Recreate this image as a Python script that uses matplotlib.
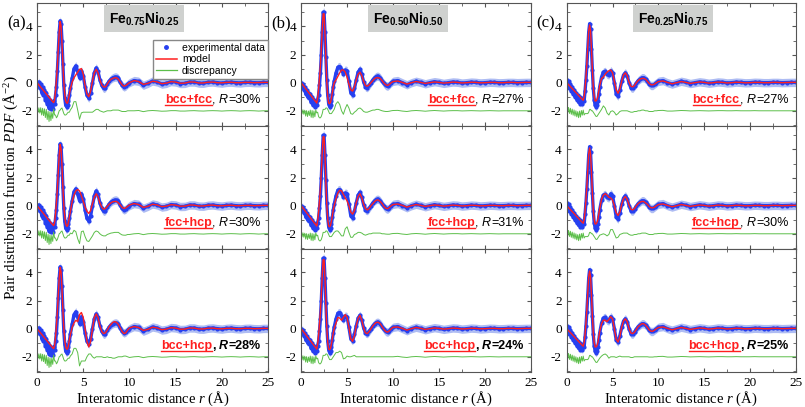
import numpy as np
import matplotlib
matplotlib.use('Agg')
import matplotlib.pyplot as plt
from matplotlib.lines import Line2D
from matplotlib.ticker import MultipleLocator

plt.rcParams['font.family'] = 'Liberation Serif'
plt.rcParams['mathtext.fontset'] = 'custom'
plt.rcParams['mathtext.rm'] = 'Liberation Serif'
plt.rcParams['mathtext.it'] = 'Liberation Serif:italic'
plt.rcParams['mathtext.bf'] = 'Liberation Sans:bold'
plt.rcParams['axes.unicode_minus'] = False

# sampling positions r (A): 0-3.6 by 0.1, 3.8-10 by 0.2, 10.5-25 by 0.5
r = np.concatenate([np.round(np.arange(0, 3.65, 0.1), 2),
                    np.round(np.arange(3.8, 10.05, 0.2), 2),
                    np.arange(10.5, 25.1, 0.5)])

# ---- (a) Fe0.75Ni0.25 ----
exp_a = [0.0, -0.2, 0.05, -0.4, -0.1, -0.7, -0.3, -0.9, -0.5, -1.2, -0.7, -1.5, -1.0, -1.8, -1.2, -1.9, -1.4, -1.9, -1.3, -1.5, -0.9,
         -0.3, 0.8, 2.2, 3.6, 4.4, 4.2, 3.0, 1.3, -0.2, -1.1, -1.6, -1.7, -1.6, -1.3, -0.9, -0.4,
         0.3, 1.0, 1.2, 0.8, 0.35, 0.85, 0.5, -0.3, -0.9, -1.1, -0.7, 0.0, 0.7, 1.05, 0.8, 0.2, -0.2, -0.4, -0.35, -0.1,
         0.1, 0.25, 0.35, 0.4, 0.4, 0.3, 0.05, -0.2, -0.3, -0.25, -0.1, 0.0,
         0.15, 0.1, -0.18, -0.05, 0.12, 0.05, -0.1, -0.05, 0.08, 0.05, -0.06, -0.05, 0.05, 0.05, -0.03,
         -0.04, 0.03, 0.05, 0.0, -0.03, 0.02, 0.04, 0.0, -0.02, 0.02, 0.03, 0.0, -0.01, 0.02, 0.02]
mod_a_low = [0.0, -0.08, -0.16, -0.24, -0.32, -0.4, -0.48, -0.56, -0.64, -0.72, -0.8, -0.88, -0.96, -1.04, -1.12, -1.2, -1.28, -1.36, -1.42, -1.2, -0.6,
             0.2, 1.2, 2.4, 3.6, 4.35, 4.05, 2.8, 1.3, 0.0, -0.8, -1.3, -1.45, -1.45, -1.2, -0.8, -0.45]
mod_a1_mid = [0.05, 0.35, 0.55, 0.75, 0.95, 1.0, 0.6, -0.2, -0.8, -1.0, -0.6, 0.1, 0.7, 0.95, 0.7, 0.2, -0.15, -0.3, -0.3, -0.1,
              0.1, 0.25, 0.3, 0.35, 0.35, 0.25, 0.05, -0.15, -0.25, -0.2, -0.1, 0.0]
mod_a2_mid = [0.3, 0.75, 1.05, 1.15, 1.05, 0.7, 0.3, -0.1, -0.4, -0.55, -0.35, 0.15, 0.6, 0.85, 0.65, 0.2, -0.1, -0.25, -0.2, -0.05,
              0.1, 0.2, 0.28, 0.3, 0.3, 0.2, 0.05, -0.12, -0.2, -0.15, -0.05, 0.05]
mod_a3_mid = [0.1, 0.4, 0.6, 0.5, 1.0, 1.15, 0.8, 0.0, -0.9, -1.3, -0.9, 0.0, 0.8, 1.05, 0.8, 0.2, -0.2, -0.35, -0.3, -0.1,
              0.15, 0.3, 0.45, 0.5, 0.45, 0.3, 0.05, -0.2, -0.35, -0.3, -0.1, 0.05]
mod_a_tail = [0.15, 0.08, -0.12, -0.05, 0.1, 0.05, -0.07, -0.03, 0.07, 0.04, -0.04, -0.03, 0.05, 0.04, -0.02,
              -0.02, 0.03, 0.04, 0.0, -0.01, 0.02, 0.03, 0.0, 0.0, 0.02, 0.02, 0.0, 0.01, 0.02, 0.02]

# ---- (b) Fe0.50Ni0.50 ----
exp_b = [0.0, -0.3, -0.1, -0.5, -0.3, -0.8, -0.5, -1.0, -0.7, -1.1, -0.8, -1.4, -1.0, -1.6, -1.2, -1.7, -1.3, -1.6, -1.2, -0.9, -0.2,
         0.7, 2.0, 3.6, 5.0, 5.0, 3.6, 1.8, 0.2, -0.9, -1.5, -1.7, -1.6, -1.3, -0.8, -0.3, 0.1,
         0.7, 1.1, 1.15, 0.9, 0.65, 0.9, 0.85, 0.1, -0.7, -0.85, -0.4, 0.2, 0.75, 0.95, 0.6, 0.05, -0.3, -0.35, -0.2, 0.0,
         0.2, 0.35, 0.45, 0.45, 0.35, 0.15, -0.05, -0.2, -0.25, -0.15, 0.0, 0.1,
         0.15, 0.0, -0.15, 0.0, 0.1, 0.02, -0.08, 0.0, 0.07, 0.02, -0.05, 0.0, 0.05, 0.03, -0.03,
         0.0, 0.04, 0.02, -0.02, 0.0, 0.03, 0.02, -0.01, 0.0, 0.02, 0.02, 0.0, 0.01, 0.02, 0.02]
mod_b_low = [0.0, -0.085, -0.17, -0.255, -0.34, -0.425, -0.51, -0.595, -0.68, -0.765, -0.85, -0.935, -1.02, -1.105, -1.19, -1.275, -1.36, -1.45, -1.1, -0.5, 0.3,
             1.2, 2.4, 3.8, 4.9, 4.9, 3.5, 1.6, 0.0, -1.0, -1.45, -1.5, -1.4, -1.1, -0.7, -0.3, 0.0]
mod_b1_mid = [0.2, 0.45, 0.7, 0.9, 0.9, 0.75, 0.4, -0.1, -0.5, -0.6, -0.3, 0.2, 0.6, 0.75, 0.5, 0.1, -0.2, -0.25, -0.15, 0.0,
              0.15, 0.3, 0.35, 0.35, 0.3, 0.15, -0.02, -0.15, -0.2, -0.12, 0.0, 0.08]
mod_b2_mid = [0.5, 0.9, 1.1, 1.05, 0.8, 0.55, 0.35, 0.0, -0.45, -0.6, -0.35, 0.2, 0.65, 0.85, 0.55, 0.1, -0.2, -0.3, -0.2, 0.0,
              0.15, 0.3, 0.4, 0.4, 0.3, 0.15, -0.05, -0.18, -0.22, -0.12, 0.0, 0.08]
mod_b3_mid = [0.4, 0.8, 0.75, 0.6, 0.8, 1.0, 0.8, 0.1, -0.7, -0.9, -0.5, 0.2, 0.75, 0.95, 0.6, 0.05, -0.3, -0.35, -0.2, 0.0,
              0.2, 0.35, 0.45, 0.45, 0.35, 0.15, -0.05, -0.2, -0.25, -0.15, 0.0, 0.1]
mod_b_tail = [0.12, 0.02, -0.1, 0.0, 0.08, 0.02, -0.05, 0.0, 0.05, 0.02, -0.03, 0.0, 0.04, 0.02, -0.02,
              0.0, 0.03, 0.02, -0.01, 0.0, 0.02, 0.02, 0.0, 0.0, 0.02, 0.02, 0.0, 0.01, 0.02, 0.02]

# ---- (c) Fe0.25Ni0.75 ----
exp_c = [0.2, -0.2, 0.1, -0.4, -0.1, -0.6, -0.3, -0.8, -0.5, -1.0, -0.7, -1.2, -0.9, -1.4, -1.0, -1.5, -1.1, -1.5, -1.2, -1.3, -0.6,
         0.2, 1.2, 2.4, 3.6, 4.2, 3.8, 2.4, 0.9, -0.4, -1.2, -1.6, -1.7, -1.6, -1.3, -0.8, -0.3,
         0.4, 0.75, 0.8, 0.6, 0.55, 0.85, 0.7, 0.0, -0.8, -0.95, -0.5, 0.1, 0.55, 0.7, 0.5, 0.0, -0.35, -0.4, -0.25, -0.05,
         0.15, 0.25, 0.35, 0.35, 0.25, 0.1, -0.1, -0.2, -0.2, -0.1, 0.0, 0.1,
         0.15, 0.0, -0.1, 0.0, 0.1, 0.03, -0.06, 0.0, 0.06, 0.02, -0.04, 0.0, 0.05, 0.03, -0.02,
         0.0, 0.04, 0.02, -0.01, 0.0, 0.03, 0.02, 0.0, 0.0, 0.02, 0.02, 0.0, 0.01, 0.02, 0.02]
mod_c_low = [0.0, -0.07, -0.14, -0.21, -0.28, -0.35, -0.42, -0.49, -0.56, -0.63, -0.7, -0.77, -0.84, -0.91, -0.98, -1.05, -1.12, -1.19, -1.25, -1.0, -0.4,
             0.4, 1.4, 2.6, 3.7, 4.1, 3.7, 2.4, 0.9, -0.3, -1.0, -1.3, -1.3, -1.2, -1.0, -0.6, -0.2]
mod_c1_mid = [0.3, 0.4, 0.6, 0.75, 0.85, 0.9, 0.7, 0.1, -0.5, -0.75, -0.45, 0.1, 0.55, 0.7, 0.5, 0.05, -0.25, -0.3, -0.2, 0.0,
              0.15, 0.25, 0.3, 0.3, 0.25, 0.1, -0.05, -0.15, -0.15, -0.1, 0.0, 0.08]
mod_c2_mid = [0.45, 0.75, 0.85, 0.75, 0.6, 0.55, 0.4, 0.0, -0.5, -0.7, -0.45, 0.1, 0.5, 0.65, 0.45, 0.05, -0.25, -0.3, -0.2, 0.0,
              0.15, 0.25, 0.3, 0.3, 0.2, 0.1, -0.05, -0.15, -0.15, -0.1, 0.0, 0.08]
mod_c3_mid = [0.35, 0.6, 0.6, 0.5, 0.65, 0.85, 0.7, 0.0, -0.75, -0.95, -0.55, 0.1, 0.55, 0.7, 0.5, 0.0, -0.3, -0.35, -0.25, -0.05,
              0.15, 0.25, 0.35, 0.35, 0.25, 0.1, -0.08, -0.18, -0.18, -0.1, 0.0, 0.08]
mod_c_tail = [0.12, 0.02, -0.08, 0.0, 0.08, 0.02, -0.05, 0.0, 0.05, 0.02, -0.03, 0.0, 0.04, 0.02, -0.02,
              0.0, 0.03, 0.02, -0.01, 0.0, 0.02, 0.02, 0.0, 0.0, 0.02, 0.02, 0.0, 0.01, 0.02, 0.02]

panel_letters = ['(a)', '(b)', '(c)']
titles = [r'$\mathbf{Fe_{0.75}Ni_{0.25}}$', r'$\mathbf{Fe_{0.50}Ni_{0.50}}$', r'$\mathbf{Fe_{0.25}Ni_{0.75}}$']
phases = [['bcc+fcc', 'fcc+hcp', 'bcc+hcp']] * 3
r_factors = [[30, 30, 28], [27, 31, 24], [27, 30, 25]]

exps = [exp_a, exp_b, exp_c]
models = [[mod_a_low + m + mod_a_tail for m in (mod_a1_mid, mod_a2_mid, mod_a3_mid)],
          [mod_b_low + m + mod_b_tail for m in (mod_b1_mid, mod_b2_mid, mod_b3_mid)],
          [mod_c_low + m + mod_c_tail for m in (mod_c1_mid, mod_c2_mid, mod_c3_mid)]]

BLUE = '#2640f0'
HALO = '#aebcf3'
RED = '#ff1f1f'
GREEN = '#5cbf4a'

fig = plt.figure(figsize=(8.05, 4.07), dpi=100)
lefts = [0.046, 0.374, 0.704]
widths = [0.287, 0.2857, 0.2845]
bottoms = [0.6898, 0.3876, 0.0854]
h = 0.3022

red_texts = []
for c in range(3):
    e = np.array(exps[c])
    for k in range(3):
        m = np.array(models[c][k])
        ax = fig.add_axes([lefts[c], bottoms[k], widths[c], h])
        ax.fill_between(r, e - 0.3, e + 0.3, color=HALO, lw=0)
        ax.plot(r, e, color=BLUE, lw=2.4)
        ax.plot(r, e, 'o', color=BLUE, ms=2.0)
        ax.plot(r, m, color=RED, lw=1.0)
        ax.plot(r, e - m - 2, color=GREEN, lw=0.7)
        ax.set_xlim(0, 25)
        ax.set_ylim(-3.1, 5.65)
        ax.set_yticks([-2, 0, 2, 4])
        ax.xaxis.set_major_locator(MultipleLocator(5))
        ax.xaxis.set_minor_locator(MultipleLocator(2.5))
        ax.yaxis.set_minor_locator(MultipleLocator(1))
        ax.tick_params(which='both', direction='in', top=True, right=True, labelsize=9.5, color='#555555')
        ax.tick_params(which='major', length=3)
        ax.tick_params(which='minor', length=2)
        for s in ax.spines.values():
            s.set_color('#555555')
        if k < 2:
            ax.tick_params(labelbottom=False)

        if k == 0:
            ax.text(0.465, 0.873, titles[c], transform=ax.transAxes, ha='center', va='center', fontsize=10,
                    bbox=dict(boxstyle='square,pad=0.35', fc='#cfd1cf', ec='none'))
        if c == 0 and k == 0:
            handles = [Line2D([], [], marker='o', ls='none', color=BLUE, ms=2.5),
                       Line2D([], [], color=RED, lw=1.1),
                       Line2D([], [], color=GREEN, lw=0.9)]
            ax.legend(handles, ['experimental data', 'model', 'discrepancy'], loc='upper right',
                      bbox_to_anchor=(1.0, 0.705), borderaxespad=0, fancybox=False, edgecolor='#888888',
                      prop={'family': 'Liberation Sans', 'size': 7.5}, borderpad=0.3, labelspacing=0.15,
                      handlelength=2.0, handletextpad=0.5, framealpha=1)

        w = 'bold' if k == 2 else 'normal'
        kw = dict(family='Liberation Sans', fontsize=9, weight=w)
        t1 = ax.text(24.2, -1.45, '=%d%%' % r_factors[c][k], ha='right', va='baseline', **kw)
        t2 = ax.annotate('R', xy=(0, 0), xycoords=t1, xytext=(-0.3, 0), textcoords='offset points',
                         ha='right', va='bottom', style='italic', **kw)
        t3 = ax.annotate(',', xy=(0, 0), xycoords=t2, xytext=(-2.5, 0), textcoords='offset points',
                         ha='right', va='bottom', **kw)
        t4 = ax.annotate(phases[c][k], xy=(0, 0), xycoords=t3, ha='right', va='bottom',
                         color=RED, family='Liberation Sans', fontsize=9, weight='bold')
        red_texts.append(t4)

for c in range(3):
    fig.text([0.02, 0.349, 0.678][c], 0.943, panel_letters[c], ha='center', va='center', fontsize=12)
    fig.text(lefts[c] + widths[c] / 2, 0.02, r'Interatomic distance $r$ (Å)', ha='center', va='center', fontsize=10.5)
fig.text(0.013, 0.54, r'Pair distribution function $PDF$ (Å$^{-2}$)', rotation=90, ha='center', va='center', fontsize=11)

# underline the phase labels
fig.canvas.draw()
inv = fig.transFigure.inverted()
for t in red_texts:
    bb = t.get_window_extent()
    (x0, y0), (x1, y1) = inv.transform([[bb.x0, bb.y0 + 1.2], [bb.x1, bb.y0 + 1.2]])
    fig.add_artist(Line2D([x0, x1], [y0, y1], transform=fig.transFigure, color=RED, lw=1.0))

fig.savefig('out.png', dpi=100)
